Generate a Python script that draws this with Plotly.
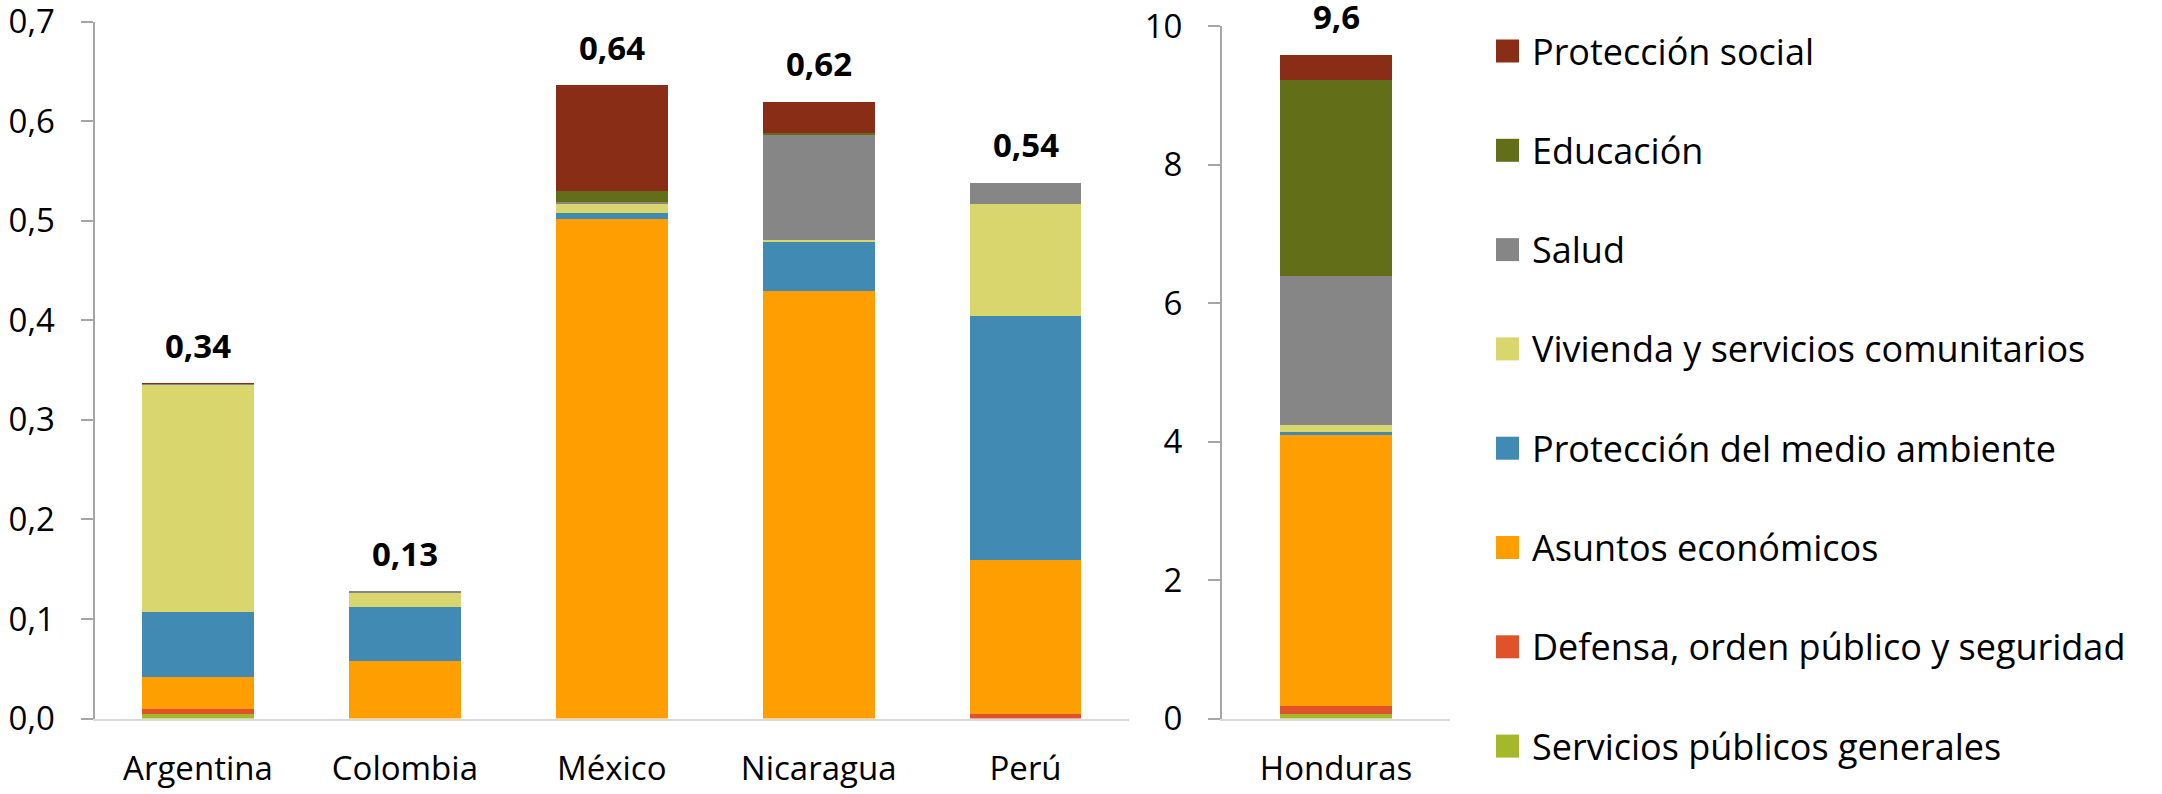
import plotly.graph_objects as go

W, H = 2162, 794

# ---- data ----
countries = ["Argentina", "Colombia", "México", "Nicaragua", "Perú", "Honduras"]
series_names = [
    "Servicios públicos generales",
    "Defensa, orden público y seguridad",
    "Asuntos económicos",
    "Protección del medio ambiente",
    "Vivienda y servicios comunitarios",
    "Salud",
    "Educación",
    "Protección social",
]
series_colors = ["#A5B82A", "#E0532A", "#FE9E01", "#418AB3",
                 "#D9D66E", "#868686", "#636E18", "#8A2D16"]

servicios_publicos = [0.005, 0.0, 0.0, 0.0, 0.0, 0.058]
defensa = [0.0045, 0.0, 0.0, 0.0, 0.0046, 0.117]
asuntos_economicos = [0.0325, 0.058, 0.502, 0.4296, 0.1545, 3.92]
medio_ambiente = [0.065, 0.054, 0.0056, 0.0503, 0.2456, 0.044]
vivienda = [0.229, 0.0147, 0.0102, 0.0005, 0.1118, 0.10]
salud = [0.0005, 0.001, 0.001, 0.1068, 0.0219, 2.15]
educacion = [0.0, 0.0, 0.0107, 0.001, 0.0, 2.83]
proteccion_social = [0.0005, 0.0, 0.1068, 0.0315, 0.0, 0.373]

total_labels = ["0,34", "0,13", "0,64", "0,62", "0,54", "9,6"]

series_values = [servicios_publicos, defensa, asuntos_economicos, medio_ambiente,
                 vivienda, salud, educacion, proteccion_social]

left_n = 5  # first five countries on left axis, Honduras on right axis

FONT = "Open Sans"
fig = go.Figure()

for name, color, vals in zip(series_names, series_colors, series_values):
    fig.add_trace(go.Bar(
        x=countries[:left_n], y=vals[:left_n], name=name,
        marker=dict(color=color, line=dict(width=0)),
        width=0.54, xaxis="x", yaxis="y", showlegend=False,
    ))
    fig.add_trace(go.Bar(
        x=countries[left_n:], y=vals[left_n:], name=name,
        marker=dict(color=color, line=dict(width=0)),
        width=0.49, xaxis="x2", yaxis="y2", showlegend=False,
    ))

# totals labels
totals = [sum(v[i] for v in series_values) for i in range(len(countries))]
for i, c in enumerate(countries):
    left = i < left_n
    fig.add_annotation(
        x=c, y=totals[i], xref="x" if left else "x2", yref="y" if left else "y2",
        text=total_labels[i], showarrow=False, yanchor="middle", yshift=38,
        font=dict(family=FONT, size=33, color="#000000", weight="bold"),
    )

# manual legend (top to bottom = reverse stack order)
leg_top, leg_step = 51, 99.3
for j, idx in enumerate(reversed(range(len(series_names)))):
    yc = leg_top + j * leg_step
    fig.add_shape(type="rect", xref="paper", yref="paper",
                  x0=1496 / W, x1=1519 / W,
                  y0=1 - (yc + 11.5) / H, y1=1 - (yc - 11.5) / H,
                  fillcolor=series_colors[idx], line=dict(width=0))
    fig.add_annotation(xref="paper", yref="paper", x=1530 / W, y=1 - yc / H,
                       xanchor="left", yanchor="middle", showarrow=False,
                       text=series_names[idx],
                       font=dict(family=FONT, size=36, color="#000000"))

axis_gray = "#A6A6A6"
base_gray = "#D9D9D9"
y_bottom = 1 - 718.5 / H

common_y = dict(showgrid=False, zeroline=False, showline=True, linecolor=axis_gray,
                linewidth=2, ticks="outside", ticklen=12, tickcolor=axis_gray,
                tickwidth=2, tickfont=dict(family=FONT, size=33, color="#000000"),
                ticklabelstandoff=19, automargin=False, ticklabeloverflow="allow")
common_x = dict(showgrid=False, zeroline=False, showline=True, linecolor=base_gray,
                linewidth=2, ticks="", tickfont=dict(family=FONT, size=33, color="#000000"),
                ticklabelstandoff=20, automargin=False, ticklabeloverflow="allow")

fig.update_layout(
    width=W, height=H, autosize=False,
    margin=dict(l=0, r=0, t=0, b=0, autoexpand=False),
    paper_bgcolor="white", plot_bgcolor="white",
    barmode="stack", separators=",.",
    font=dict(family=FONT, size=33, color="#000000"),
    xaxis=dict(domain=[94.5 / W, 1129 / W], anchor="y", range=[-0.5, 4.5], **common_x),
    yaxis=dict(domain=[y_bottom, 1 - 21.7 / H], anchor="x", range=[0, 0.7],
               dtick=0.1, tickformat=".1f", **common_y),
    xaxis2=dict(domain=[1222 / W, 1450 / W], anchor="y2", range=[-0.5, 0.5], **common_x),
    yaxis2=dict(domain=[y_bottom, 1 - 26.3 / H], anchor="x2", range=[0, 10],
                dtick=2, **common_y),
    yaxis3=dict(overlaying="y", anchor="free", position=94.5 / W, side="left",
                range=[0, 0.7], dtick=0.1, ticks="inside", ticklen=12,
                tickcolor=axis_gray, tickwidth=2, showticklabels=False,
                showline=False, showgrid=False, zeroline=False, automargin=False),
    yaxis4=dict(overlaying="y2", anchor="free", position=1222 / W, side="left",
                range=[0, 10], dtick=2, ticks="inside", ticklen=12,
                tickcolor=axis_gray, tickwidth=2, showticklabels=False,
                showline=False, showgrid=False, zeroline=False, automargin=False),
)

fig.write_html("out.html", config={"displayModeBar": False},
               post_script="document.body.style.margin='0';document.body.style.overflow='hidden';")
